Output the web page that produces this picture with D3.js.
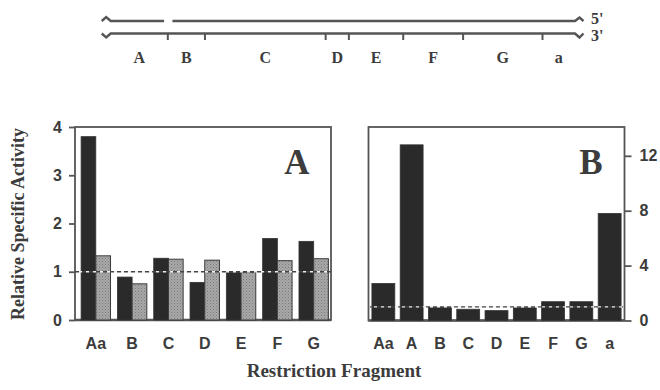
<!DOCTYPE html>
<html>
<head>
<meta charset="utf-8">
<script src="https://cdnjs.cloudflare.com/ajax/libs/d3/7.8.5/d3.min.js"></script>
<style>
  body { margin: 0; background: #fff; }
  svg { display: block; }
</style>
</head>
<body>
<div class="fragChart"></div>
<script>
// panel A: two series per fragment
const fragmentsA = ["Aa", "B", "C", "D", "E", "F", "G"];
const darkA = [3.8, 0.89, 1.28, 0.78, 0.99, 1.69, 1.63];
const greyA = [1.33, 0.75, 1.26, 1.24, 0.99, 1.23, 1.27];
const ticksA = [0, 1, 2, 3, 4];

// panel B: one series
const fragmentsB = ["Aa", "A", "B", "C", "D", "E", "F", "G", "a"];
const valuesB = [2.7, 12.8, 0.95, 0.82, 0.72, 0.93, 1.37, 1.37, 7.8];
const ticksB = [0, 4, 8, 12];

// restriction map (map units 0..100)
const mapCuts = [12.3, 20.3, 46.3, 51.3, 63.0, 75.9, 93.0];
const mapLabels = ["A", "B", "C", "D", "E", "F", "G", "a"];
const strandGap = [11.5, 13.3];

const W = 660, H = 390;
const ink = "#555", txt = "#3c3c3c";
const sans = "'Liberation Sans', Arial, sans-serif";
const serif = "'Liberation Serif', 'Times New Roman', serif";

const svg = d3.select(".fragChart").append("svg")
  .attr("width", W).attr("height", H);

// stipple for the grey bars
const pat = svg.append("defs").append("pattern")
  .attr("id", "stip").attr("patternUnits", "userSpaceOnUse")
  .attr("width", 3).attr("height", 3);
pat.append("rect").attr("width", 3).attr("height", 3).attr("fill", "#a8a8a8");
pat.append("rect").attr("width", 1).attr("height", 1).attr("fill", "#7a7a7a");
pat.append("rect").attr("x", 1.5).attr("y", 1.5).attr("width", 1).attr("height", 1).attr("fill", "#8a8a8a");

/* ---- restriction map ---- */
const m = d3.scaleLinear().domain([0, 100]).range([110.7, 575]);
const yTop = 21, yBot = 33.5;
const map = svg.append("g").attr("fill", "none").attr("stroke", ink).attr("stroke-width", 2.4);

map.append("path").attr("d", `M${m(0) - 9},${yTop} L${m(0) - 4.5},${yTop - 4} L${m(0)},${yTop} L${m(strandGap[0])},${yTop}`);
map.append("path").attr("d", `M${m(strandGap[1])},${yTop} L${m(100)},${yTop} L${m(100) + 4.5},${yTop - 3.5} L${m(100) + 8.5},${yTop}`);
map.append("path").attr("d", `M${m(0) - 9},${yBot} L${m(0) - 4.5},${yBot + 4} L${m(0)},${yBot} L${m(100)},${yBot} L${m(100) + 4.5},${yBot + 4} L${m(100) + 8.5},${yBot}`);

map.selectAll(".cut").data(mapCuts).enter().append("line")
  .attr("class", "cut").attr("stroke-width", 2)
  .attr("x1", d => m(d)).attr("x2", d => m(d))
  .attr("y1", yBot).attr("y2", yBot + 6.5);

const bounds = [0, ...mapCuts, 100];
svg.selectAll(".mapLab").data(mapLabels).enter().append("text")
  .attr("class", "mapLab")
  .attr("x", (d, i) => m((bounds[i] + bounds[i + 1]) / 2))
  .attr("y", 63)
  .attr("text-anchor", "middle")
  .attr("font-family", serif).attr("font-weight", "bold").attr("font-size", 16)
  .attr("fill", txt).text(d => d);

svg.append("text").attr("x", 591).attr("y", 24)
  .attr("font-family", serif).attr("font-weight", "bold").attr("font-size", 16)
  .attr("fill", txt).text("5'");
svg.append("text").attr("x", 591).attr("y", 41)
  .attr("font-family", serif).attr("font-weight", "bold").attr("font-size", 16)
  .attr("fill", txt).text("3'");

/* ---- shared helpers ---- */
function drawFrame(x0, x1, y0, y1) {
  svg.append("rect")
    .attr("x", x0).attr("y", y0).attr("width", x1 - x0).attr("height", y1 - y0)
    .attr("fill", "none").attr("stroke", ink).attr("stroke-width", 1.8);
  svg.append("line")
    .attr("x1", x0).attr("x2", x1).attr("y1", y1).attr("y2", y1)
    .attr("stroke", ink).attr("stroke-width", 2.4);
}

function drawRefLine(x0, x1, y) {
  svg.append("line").attr("x1", x0).attr("x2", x1).attr("y1", y).attr("y2", y)
    .attr("stroke", "#444").attr("stroke-width", 1.3).attr("stroke-dasharray", "4,3");
  svg.append("line").attr("x1", x0).attr("x2", x1).attr("y1", y).attr("y2", y)
    .attr("stroke", "#eee").attr("stroke-width", 1.3).attr("stroke-dasharray", "3,4")
    .attr("stroke-dashoffset", -4);
}

function styleAxis(g) {
  g.select(".domain").remove();
  g.selectAll(".tick line").attr("stroke", ink).attr("stroke-width", 1.8);
  g.selectAll(".tick text")
    .attr("font-family", sans).attr("font-weight", "bold").attr("font-size", 16)
    .attr("fill", txt);
}

function xLabels(x, baseY) {
  svg.append("g").attr("transform", `translate(0,${baseY})`)
    .call(d3.axisBottom(x).tickSize(0).tickPadding(0))
    .call(styleAxis)
    .selectAll("text").attr("y", 0).attr("dy", 0);
}

/* ---- panel A ---- */
const xA = d3.scaleBand().domain(fragmentsA).range([75, 331])
  .paddingInner(0.19).paddingOuter(0.12).align(0.7);
const subA = d3.scaleBand().domain([0, 1]).range([0, xA.bandwidth()]);
const yA = d3.scaleLinear().domain([0, 4]).range([320, 127]);

drawFrame(75, 331, 127, 320);

const gA = svg.append("g");
gA.selectAll(".barDark").data(fragmentsA).enter().append("rect")
  .attr("class", "barDark")
  .attr("x", d => xA(d) + subA(0)).attr("width", subA.bandwidth())
  .attr("y", (d, i) => yA(darkA[i])).attr("height", (d, i) => yA(0) - yA(darkA[i]))
  .attr("fill", "#2a2a2a").attr("stroke", "#333").attr("stroke-width", 0.8);
gA.selectAll(".barGrey").data(fragmentsA).enter().append("rect")
  .attr("class", "barGrey")
  .attr("x", d => xA(d) + subA(1)).attr("width", subA.bandwidth())
  .attr("y", (d, i) => yA(greyA[i])).attr("height", (d, i) => yA(0) - yA(greyA[i]))
  .attr("fill", "url(#stip)").attr("stroke", "#3a3a3a").attr("stroke-width", 1);

drawRefLine(75, 331, yA(1));

svg.append("g").attr("transform", "translate(75,0)")
  .call(d3.axisLeft(yA).tickValues(ticksA).tickFormat(d3.format("d")).tickSize(6).tickPadding(7))
  .call(styleAxis);

xLabels(xA, 349);

svg.append("text").attr("x", 297).attr("y", 174).attr("text-anchor", "middle")
  .attr("font-family", serif).attr("font-weight", "bold").attr("font-size", 35)
  .attr("fill", txt).text("A");

/* ---- panel B ---- */
const xB = d3.scaleBand().domain(fragmentsB).range([368.5, 624.5])
  .paddingInner(0.19).paddingOuter(0.12);
const yB = d3.scaleLinear().domain([0, 14.1]).range([320.5, 127]);

drawFrame(368.5, 624.5, 127, 320.5);

svg.append("g").selectAll(".barB").data(fragmentsB).enter().append("rect")
  .attr("class", "barB")
  .attr("x", d => xB(d)).attr("width", xB.bandwidth())
  .attr("y", (d, i) => yB(valuesB[i])).attr("height", (d, i) => yB(0) - yB(valuesB[i]))
  .attr("fill", "#2a2a2a").attr("stroke", "#333").attr("stroke-width", 0.8);

drawRefLine(370, 623, yB(1));

svg.append("g").attr("transform", "translate(624.5,0)")
  .call(d3.axisRight(yB).tickValues(ticksB).tickFormat(d3.format("d")).tickSize(7).tickPadding(8))
  .call(styleAxis);

xLabels(xB, 349);

svg.append("text").attr("x", 591).attr("y", 174).attr("text-anchor", "middle")
  .attr("font-family", serif).attr("font-weight", "bold").attr("font-size", 35)
  .attr("fill", txt).text("B");

/* ---- axis titles ---- */
svg.append("text")
  .attr("transform", "translate(18,224) rotate(-90)")
  .attr("text-anchor", "middle").attr("dominant-baseline", "central")
  .attr("font-family", serif).attr("font-weight", "bold").attr("font-size", 18)
  .attr("fill", txt).text("Relative Specific Activity");

svg.append("text").attr("x", 334).attr("y", 377).attr("text-anchor", "middle")
  .attr("font-family", serif).attr("font-weight", "bold").attr("font-size", 19)
  .attr("fill", txt).text("Restriction Fragment");
</script>
</body>
</html>
